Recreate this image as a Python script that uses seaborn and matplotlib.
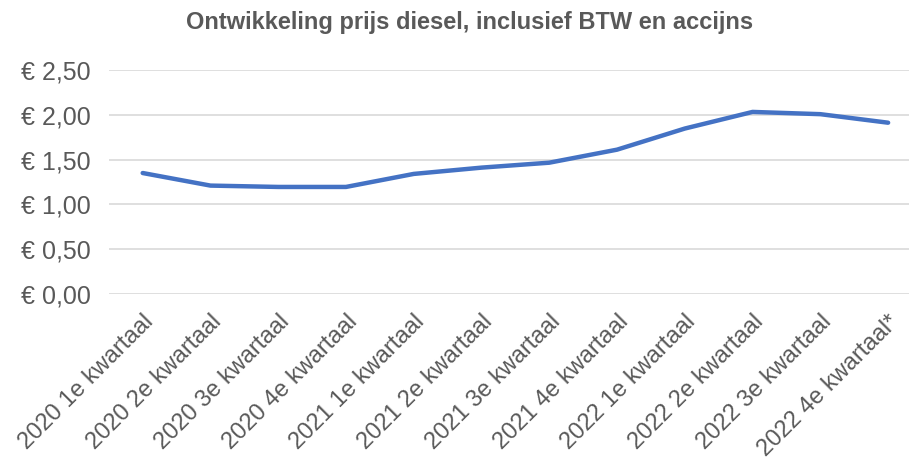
import matplotlib
matplotlib.use("Agg")
import matplotlib.pyplot as plt
import seaborn as sns
import pandas as pd

categories = ["2020 1e kwartaal", "2020 2e kwartaal", "2020 3e kwartaal", "2020 4e kwartaal",
              "2021 1e kwartaal", "2021 2e kwartaal", "2021 3e kwartaal", "2021 4e kwartaal",
              "2022 1e kwartaal", "2022 2e kwartaal", "2022 3e kwartaal", "2022 4e kwartaal*"]
prices = [1.35, 1.21, 1.195, 1.195, 1.34, 1.41, 1.465, 1.61, 1.845, 2.03, 2.005, 1.91]
yticks = [0.0, 0.5, 1.0, 1.5, 2.0, 2.5]
ytick_labels = ["€ 0,00", "€ 0,50", "€ 1,00", "€ 1,50", "€ 2,00", "€ 2,50"]
title = "Ontwikkeling prijs diesel, inclusief BTW en accijns"

sns.set_style("white")
plt.rcParams['font.family'] = ['Liberation Sans', 'DejaVu Sans']

df = pd.DataFrame({"pos": range(len(categories)), "price": prices})

fig = plt.figure(figsize=(9.09, 4.59), dpi=100)
ax = fig.add_axes([108.8/909, (459-294.3)/459, (922-108.8)/909, (294.3-69.7)/459])
sns.lineplot(data=df, x="pos", y="price", ax=ax, color="#4472C4", linewidth=3.2,
             solid_capstyle="round", solid_joinstyle="round", zorder=3)

ax.set_xlim(-0.5, len(categories) - 0.5)
ax.set_ylim(0, 2.5)
ax.set_yticks(yticks)
ax.set_yticklabels(ytick_labels, fontsize=18, color="#595959")
ax.set_xticks(range(len(categories)))
ax.set_xticklabels(categories, fontsize=17, color="#595959", rotation=45,
                   ha="right", rotation_mode="anchor")
ax.tick_params(axis="y", length=0, pad=13)
ax.tick_params(axis="x", length=0, pad=12)
for sp in ax.spines.values():
    sp.set_visible(False)
ax.grid(axis="y", color="#D9D9D9", linewidth=1.2)
ax.set_axisbelow(True)
ax.set_xlabel("")
ax.set_ylabel("")

fig.text(470/909, 1 - 22/459, title, ha="center", va="center", fontsize=17,
         fontweight="bold", color="#595959")

fig.savefig("out.png", dpi=100)
